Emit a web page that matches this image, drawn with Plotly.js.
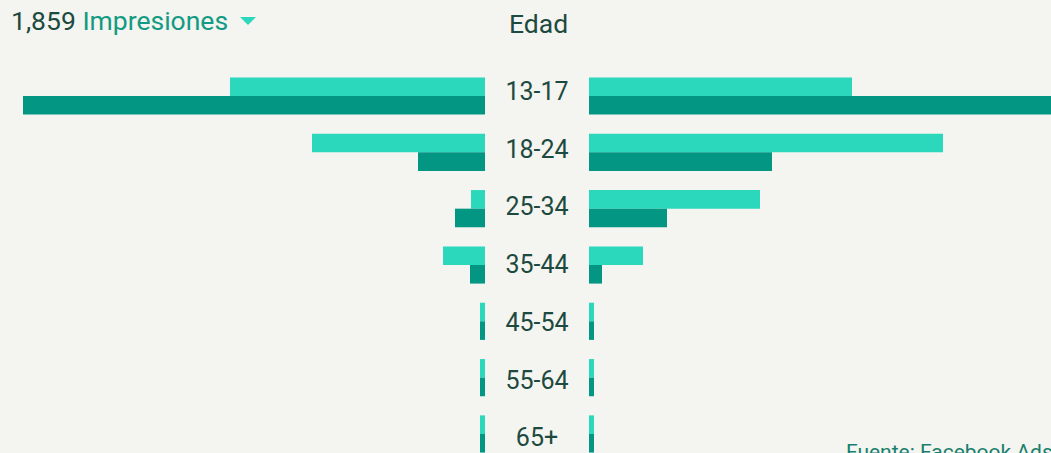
<!DOCTYPE html>
<html>
<head>
<meta charset="utf-8">
<script src="https://cdn.plot.ly/plotly-3.0.1.min.js"></script>
<style>html,body{margin:0;padding:0;background:#f4f4f0;}#chart{width:1051px;height:453px;}</style>
</head>
<body>
<div id="chart"></div>
<script>
const categories = ["13-17", "18-24", "25-34", "35-44", "45-54", "55-64", "65+"];
const leftLight  = [255, 173, 14, 42, 5, 5, 5];
const leftDark   = [462, 67, 30, 15, 5, 5, 5];
const rightLight = [263, 354, 171, 54, 5, 5, 5];
const rightDark  = [480, 183, 78, 13, 5, 5, 5];
const totalLabel = "1,859";
const metricLabel = "Impresiones";
const centerTitle = "Edad";
const sourceLabel = "Fuente: Facebook Ads";

const LIGHT = "#2bd8bc";
const DARK = "#039783";
const TEXT = "#1d4a3f";
const TEAL = "#129a82";

function bar(x, color, xa) {
  return {type: "bar", orientation: "h", y: categories, x: x, xaxis: xa, yaxis: "y",
    marker: {color: color, line: {width: 0}}, hoverinfo: "skip", showlegend: false};
}
const traces = [
  bar(leftLight, LIGHT, "x"), bar(leftDark, DARK, "x"),
  bar(rightLight, LIGHT, "x2"), bar(rightDark, DARK, "x2"),
  {type: "scatter", mode: "text", y: categories, x: categories.map(() => 0),
   text: categories, textposition: "middle center", xaxis: "x3", yaxis: "y2",
   textfont: {family: "Roboto", size: 25, color: TEXT}, hoverinfo: "skip", showlegend: false, cliponaxis: false}
];

const W = 1051, H = 453;
const annotations = [];
annotations.push({
  text: totalLabel + " <span style='color:" + TEAL + "'>" + metricLabel + "</span>",
  x: 9 / W, xref: "paper", y: 1 - 20 / H, yref: "paper", xanchor: "left", yanchor: "middle",
  showarrow: false, font: {family: "Roboto", size: 26.5, color: TEXT}
});
annotations.push({
  text: centerTitle, x: 538 / W, xref: "paper", y: 1 - 23 / H, yref: "paper", xanchor: "center", yanchor: "middle",
  showarrow: false, font: {family: "Roboto", size: 26.5, color: TEXT}
});
annotations.push({
  text: sourceLabel, x: 844 / W, xref: "paper", y: 1 - 438 / H, yref: "paper", xanchor: "left", yanchor: "top",
  showarrow: false, font: {family: "Roboto", size: 21, color: "#17806d"}
});

const step = 56.33, c0 = 96;
const lstep = 57.75, l0 = 93.5;
const px = v => v / W, py = v => 1 - v / H;
const layout = {
  width: W, height: H,
  margin: {l: 0, r: 0, t: 0, b: 0, pad: 0},
  paper_bgcolor: "#f4f4f0", plot_bgcolor: "#f4f4f0",
  barmode: "group", bargap: 0.34, bargroupgap: 0,
  xaxis: {domain: [0, 485 / W], range: [485, 0], visible: false, fixedrange: true},
  xaxis2: {domain: [589 / W, 1], range: [0, 462], visible: false, fixedrange: true},
  xaxis3: {domain: [486 / W, 588 / W], range: [-1, 1], visible: false, fixedrange: true},
  yaxis: {type: "category", range: [(H - c0) / step, -c0 / step], visible: false, fixedrange: true},
  yaxis2: {type: "category", anchor: "x3", overlaying: "y", range: [(H - l0) / lstep, -l0 / lstep], visible: false, fixedrange: true},
  shapes: [{type: "path", xref: "paper", yref: "paper",
    path: `M ${px(240)} ${py(17)} L ${px(256)} ${py(17)} L ${px(248)} ${py(25)} Z`,
    fillcolor: LIGHT, line: {width: 0}}],
  annotations: annotations,
  showlegend: false
};
Plotly.newPlot("chart", traces, layout, {displayModeBar: false, staticPlot: true});
</script>
</body>
</html>
